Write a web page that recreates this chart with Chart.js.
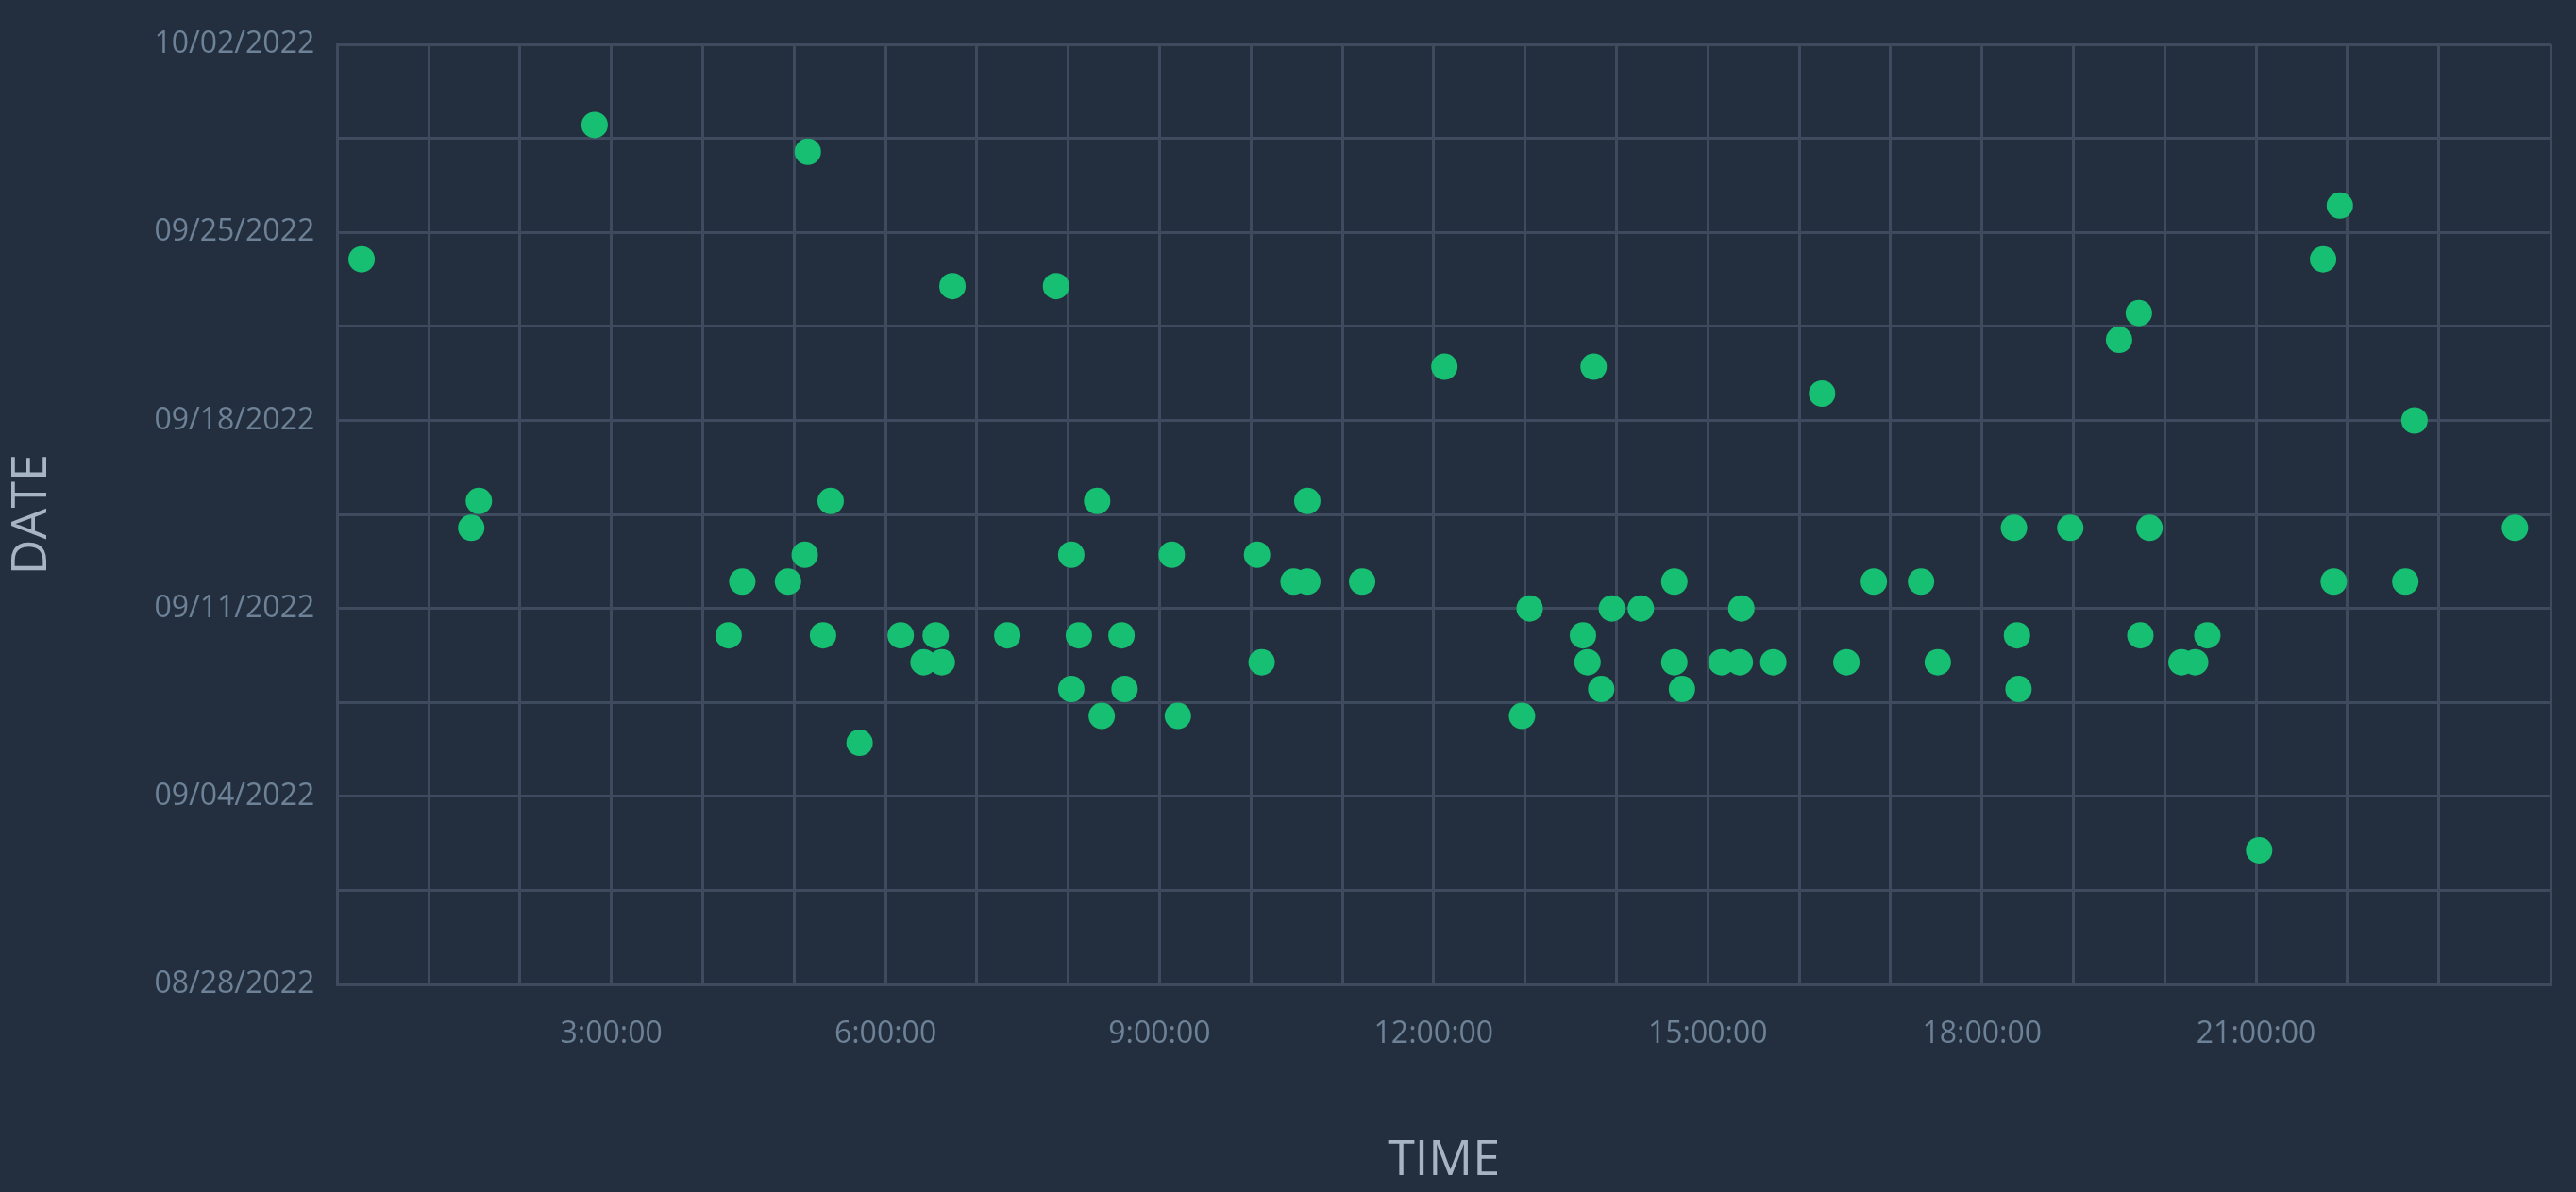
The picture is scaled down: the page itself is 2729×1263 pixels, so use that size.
<!DOCTYPE html>
<html>
<head>
<meta charset="utf-8">
<script src="https://cdn.jsdelivr.net/npm/chart.js@4.4.0/dist/chart.umd.min.js"></script>
<style>
  html, body { margin: 0; padding: 0; background: #232f3e; }
  #wrap { width: 2729px; height: 1263px; }
</style>
</head>
<body>
<div id="wrap"><canvas id="scatterChart"></canvas></div>
<script>
// time of day for each entry (h:mm)
const times = [
    "0:16", "2:49", "1:28", "1:33", "5:09", "4:17", "4:26", "4:56", "5:07", "5:19",
    "5:24", "5:43", "6:10", "6:25", "6:33", "6:37", "6:44", "7:20", "7:52", "8:02",
    "8:07", "8:02", "8:19", "8:22", "8:35", "8:37", "9:08", "9:12", "10:04", "10:07",
    "10:28", "10:37", "10:37", "11:13", "12:07", "12:58", "13:03", "13:38", "13:41", "13:45",
    "13:50", "13:57", "14:16", "14:38", "14:38", "14:43", "15:09", "15:21", "15:22", "15:43",
    "16:15", "16:31", "16:49", "17:20", "17:31", "18:21", "18:23", "18:24", "18:58", "19:30",
    "19:43", "19:44", "19:50", "20:11", "20:20", "20:28", "21:02", "21:44", "21:51", "21:55",
    "22:38", "22:44", "23:50"
];
// matching date for each entry
const dates = [
    "09/24", "09/29", "09/14", "09/15", "09/28", "09/10", "09/12", "09/12", "09/13", "09/10",
    "09/15", "09/06", "09/10", "09/09", "09/10", "09/09", "09/23", "09/10", "09/23", "09/13",
    "09/10", "09/08", "09/15", "09/07", "09/10", "09/08", "09/13", "09/07", "09/13", "09/09",
    "09/12", "09/12", "09/15", "09/12", "09/20", "09/07", "09/11", "09/10", "09/09", "09/20",
    "09/08", "09/11", "09/11", "09/12", "09/09", "09/08", "09/09", "09/09", "09/11", "09/09",
    "09/19", "09/09", "09/12", "09/12", "09/09", "09/14", "09/10", "09/08", "09/14", "09/21",
    "09/22", "09/10", "09/14", "09/09", "09/09", "09/10", "09/02", "09/24", "09/12", "09/26",
    "09/12", "09/18", "09/14"
];
const year = 2022;
const dateMin = "08/28";
const dateMax = "10/02";
// x axis: grid every hour, label every 3 hours, axis ends a little past midnight
const xMaxSeconds = 87200;
const labelledHours = [3, 6, 9, 12, 15, 18, 21];

const DAY = 86400000;

function dayIndex(md) {
    let [m, d] = md.split("/").map(Number);
    let [m0, d0] = dateMin.split("/").map(Number);
    return Math.round((Date.UTC(year, m - 1, d) - Date.UTC(year, m0 - 1, d0)) / DAY);
}

function toSeconds(t) {
    let [h, m] = t.split(":").map(Number);
    return h * 3600 + m * 60;
}

function dayLabel(n) {
    let [m0, d0] = dateMin.split("/").map(Number);
    let dt = new Date(Date.UTC(year, m0 - 1, d0) + n * DAY);
    let mm = String(dt.getUTCMonth() + 1).padStart(2, "0");
    let dd = String(dt.getUTCDate()).padStart(2, "0");
    return mm + "/" + dd + "/" + dt.getUTCFullYear();
}

let points = times.map((t, i) => ({ x: toSeconds(t), y: dayIndex(dates[i]) }));

const gridColor = "#3e4a5d";
const tickColor = "#6d8197";
const titleColor = "#a7b4c3";

let ctx = document.getElementById("scatterChart").getContext("2d");
let chart = new Chart(ctx, {
    type: "scatter",
    data: {
        datasets: [{
            label: "Entries",
            data: points,
            backgroundColor: "#17bf72",
            borderColor: "#17bf72",
            borderWidth: 0,
            pointRadius: 14,
            pointHoverRadius: 14
        }]
    },
    options: {
        responsive: true,
        maintainAspectRatio: false,
        animation: false,
        layout: {
            padding: { top: 47, right: 16, bottom: 2, left: 0 }
        },
        plugins: {
            legend: { display: false },
            tooltip: { enabled: false }
        },
        scales: {
            x: {
                type: "linear",
                min: 0,
                max: xMaxSeconds,
                afterBuildTicks: function (scale) {
                    let ticks = [];
                    for (let h = 0; h < 24; h++) ticks.push({ value: h * 3600 });
                    ticks.push({ value: xMaxSeconds });
                    scale.ticks = ticks;
                },
                // invisible tick marks keep the labels low while the side padding stays small
                grid: { color: gridColor, lineWidth: 3, drawTicks: true, tickLength: 6, tickColor: "rgba(0,0,0,0)" },
                border: { color: gridColor, width: 3 },
                ticks: {
                    autoSkip: false,
                    maxRotation: 0,
                    padding: 27,
                    color: tickColor,
                    font: { family: "'Open Sans'", size: 32 },
                    callback: function (value) {
                        let h = value / 3600;
                        if (!labelledHours.includes(h)) return "";
                        return h + ":00:00";
                    }
                },
                title: {
                    display: true,
                    text: "TIME",
                    color: titleColor,
                    font: { family: "'Open Sans'", size: 52 },
                    padding: { top: 57, bottom: 0 }
                }
            },
            y: {
                type: "linear",
                min: dayIndex(dateMin),
                max: dayIndex(dateMax),
                grid: { color: gridColor, lineWidth: 3, drawTicks: false },
                border: { color: gridColor, width: 3 },
                ticks: {
                    stepSize: 3.5,
                    autoSkip: false,
                    padding: 24,
                    color: tickColor,
                    font: { family: "'Open Sans'", size: 32 },
                    callback: function (value) {
                        let n = Math.round(value);
                        if (Math.abs(value - n) > 0.01 || n % 7 !== 0) return "";
                        return dayLabel(n);
                    }
                },
                title: {
                    display: true,
                    text: "DATE",
                    color: titleColor,
                    font: { family: "'Open Sans'", size: 52 },
                    padding: { top: 3, bottom: 74 }
                }
            }
        }
    }
});
</script>
</body>
</html>
